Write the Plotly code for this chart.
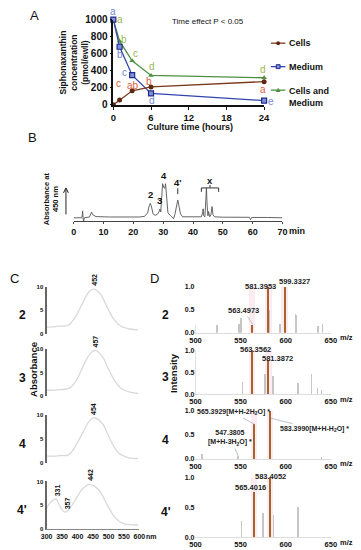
import plotly.graph_objects as go

# ---------------- Panel A data ----------------
time_h = [0, 1, 3, 6, 24]
cells = [0, 57, 165, 210, 272]
medium = [1000, 682, 348, 134, 50]
cells_medium = [1000, 747, 517, 345, 318]
cells_letters = ["", "c", "ab", "b", "a"]
medium_letters = ["a", "b", "c", "d", "e"]
cm_letters = ["a", "b", "c", "d", "d"]
a_xticks = [0, 6, 12, 18, 24]
a_yticks = [0, 200, 400, 600, 800, 1000]
legend_names = ["Cells", "Medium", "Cells and<br>Medium"]

# ---------------- Panel B data ----------------
hplc_time = [0, 2.7, 2.9, 3.0, 3.1, 3.3, 3.6, 5.3, 5.8, 6.0, 6.4, 7.5, 12, 18, 22,
             23.8, 24.8, 25.3, 25.7, 26.1, 26.6, 27.3, 28.0, 28.6, 28.9, 29.2, 29.5,
             29.8, 30.2, 30.5, 30.8, 31.1, 31.6, 32.5, 33.2, 33.5, 33.9, 34.3, 34.6,
             34.9, 35.3, 35.8, 36.5, 40, 42.8, 43.2, 43.4, 43.6, 44.0, 44.3, 44.5,
             44.7, 45.0, 45.2, 45.4, 45.6, 46.0, 46.4, 46.7, 47.2, 50, 58.9, 59.3,
             59.7, 65, 70]
hplc_abs = [0, 0, 3, 7, 2, -4, 0, 0.8, 5.5, 5.8, 3, 1.2, 0.8, 0.6, 0.8,
            1.5, 5, 12, 14.8, 11, 4, 2.5, 3.5, 6, 9, 6, 20,
            34.8, 31, 30, 34.8, 20, 5, 2, 0, -1, 3, 8, 14,
            18.2, 12, 4, 1, 0.8, 1, 5, 9.2, 2, 1, 18, 30.5,
            15, 2, 6.5, 2, 1, 3, 11.5, 3, 1, 0.6, 0.5, -2,
            0.3, 0.3, 0]
hplc_xticks = [0, 10, 20, 30, 40, 50, 60, 70]
hplc_labels = ["2", "3", "4", "4'"]
hplc_label_time = [25.7, 28.8, 30.3, 34.9]
hplc_label_abs = [14.8, 9.0, 34.8, 18.2]
x_group = [42.8, 48.6]

# ---------------- Panel C data (UV-Vis spectra) ----------------
spec_names = ["2", "3", "4", "4'"]
wl_2 = [300, 320, 340, 355, 370, 380, 395, 417, 438, 454, 475, 496, 517, 538, 569, 596]
ab_2 = [1.4, 1.45, 1.6, 1.6, 1.8, 2.4, 3.8, 6.6, 9.0, 9.5, 8.3, 5.6, 3.1, 1.7, 1.0, 0.8]
wl_3 = [300, 320, 340, 360, 375, 385, 400, 421, 442, 458, 480, 500, 522, 542, 570, 596]
ab_3 = [1.3, 1.3, 1.4, 1.5, 1.8, 2.4, 3.9, 6.8, 9.2, 9.8, 8.5, 5.8, 3.1, 1.6, 0.9, 0.6]
wl_4 = [300, 320, 345, 369, 380, 396, 422, 440, 454, 480, 506, 532, 564, 596]
ab_4 = [1.4, 1.4, 1.5, 1.6, 2.2, 3.8, 6.9, 8.9, 9.4, 8.2, 4.8, 2.1, 1.1, 0.9]
wl_4p = [300, 310, 321, 331, 343, 359, 375, 396, 417, 440, 469, 496, 522, 548, 575, 596]
ab_4p = [4.4, 5.4, 6.1, 6.3, 4.8, 3.6, 4.4, 6.5, 8.5, 9.4, 8.2, 5.1, 2.4, 1.2, 0.95, 0.9]
peaks_2 = [452]
peaks_3 = [457]
peaks_4 = [454]
peaks_4p = [331, 357, 442]
peak_h_2 = [9.5]
peak_h_3 = [9.8]
peak_h_4 = [9.4]
peak_h_4p = [6.3, 3.6, 9.4]
c_xticks = [300, 350, 400, 450, 500, 550, 600]
c_yticks = [0, 5, 10]

# ---------------- Panel D data (MS spectra) ----------------
mz_gray_2 = [500, 524.6, 549, 550.7, 562.5, 582.4, 594.3, 600.5, 611.2, 612.2, 636, 641.4]
int_gray_2 = [0.17, 0.17, 0.2, 0.33, 0.18, 0.5, 0.2, 0.1, 0.42, 0.4, 0.15, 0.2]
mz_main_2 = [563.4973, 581.3953, 599.3327]
int_main_2 = [0.18, 1.0, 1.0]
mz_gray_3 = [500.5, 552.5, 577.3, 586.4, 614.3, 629, 635.7, 640]
int_gray_3 = [1.0, 0.28, 0.45, 0.42, 0.24, 0.45, 0.13, 0.1]
mz_main_3 = [563.3562, 581.3872]
int_main_3 = [1.0, 0.77]
mz_gray_4 = [507.9, 547.3805, 640]
int_gray_4 = [0.11, 0.06, 0.05]
mz_main_4 = [565.3929, 583.3990]
int_main_4 = [0.72, 1.0]
mz_gray_4p = [551.4, 575.7, 587, 613.9]
int_gray_4p = [0.26, 0.4, 0.37, 0.5]
mz_main_4p = [565.4016, 583.4052]
int_main_4p = [0.75, 1.0]
d_xticks = [500, 550, 600, 650]
d_yticks = [0, 0.5, 1.0]
d_yticktext = ["0.0", "0.5", "1.0"]

# ---------------- helpers ----------------
W, H = 361, 550
FONT = "Arial, Liberation Sans, sans-serif"


def fx(p):
    return p / W


def fy(p):
    return 1 - p / H


annotations = []
shapes = []


def txt(text, x, y, size=9, bold=False, color="#111", angle=0, xanchor="center",
        yanchor="middle", xref="paper", yref="paper", xshift=0, yshift=0, align="center"):
    annotations.append(dict(
        text=text, x=x, y=y, xref=xref, yref=yref, showarrow=False,
        font=dict(family=FONT, size=size, color=color, weight="bold" if bold else "normal"),
        textangle=angle, xanchor=xanchor, yanchor=yanchor, xshift=xshift, yshift=yshift,
        align=align))


fig = go.Figure()
layout = dict(
    width=W, height=H, autosize=False,
    margin=dict(l=0, r=0, t=0, b=0),
    paper_bgcolor="white", plot_bgcolor="rgba(0,0,0,0)",
    showlegend=False, barmode="overlay", bargap=0,
    font=dict(family=FONT, color="#111"),
)

# ================= Panel A =================
col_cells, col_med, col_cm = "#7a3a1c", "#3346b0", "#4e9040"
let_cells, let_med, let_cm = "#d9603b", "#7487d6", "#9ab84e"

fig.add_trace(go.Scatter(x=time_h, y=cells_medium, mode="lines+markers", xaxis="x", yaxis="y",
                         line=dict(color=col_cm, width=1.3), cliponaxis=False,
                         marker=dict(symbol="triangle-up", size=5, color=col_cm)))
fig.add_trace(go.Scatter(x=time_h, y=medium, mode="lines+markers", xaxis="x", yaxis="y",
                         line=dict(color=col_med, width=1.3), cliponaxis=False,
                         marker=dict(symbol="square", size=5, color="#7f90dc",
                                     line=dict(color="#1f2c86", width=1.2))))
fig.add_trace(go.Scatter(x=time_h, y=cells, mode="lines+markers", xaxis="x", yaxis="y",
                         line=dict(color=col_cells, width=1.3), cliponaxis=False,
                         marker=dict(symbol="circle", size=5, color="#5c2a14")))

layout["xaxis"] = dict(domain=[fx(111), fx(267)], range=[0, 24], tickvals=a_xticks,
                       showline=True, linecolor="#111", linewidth=1.5, ticks="outside",
                       ticklen=3, tickcolor="#111", showgrid=False, zeroline=False,
                       tickfont=dict(size=9.5, weight="bold", color="#111"), anchor="y")
layout["yaxis"] = dict(domain=[fy(101), fy(14)], range=[0, 1000], tickvals=a_yticks,
                       showline=True, linecolor="#111", linewidth=1.5, ticks="outside",
                       ticklen=2, tickcolor="#111", showgrid=False, zeroline=False,
                       tickfont=dict(size=10, weight="bold", color="#111"), anchor="x")

# significance letters (offsets in px)
off_cells = [(0, 0), (-1, 16), (1, 5), (-2, 5), (-1, -8)]
off_med = [(0, 8), (0, -8), (-8, 3), (1, -7), (7, -1)]
off_cm = [(7, 0), (4, 2), (3, 7), (1, 9), (-1, 8)]
for vals, letters, offs, col in [(cells, cells_letters, off_cells, let_cells),
                                 (medium, medium_letters, off_med, let_med),
                                 (cells_medium, cm_letters, off_cm, let_cm)]:
    for t, v, l, (dx, dy) in zip(time_h, vals, letters, offs):
        if l:
            txt(l, t, v, size=10, color=col, xref="x", yref="y", xshift=dx, yshift=dy)

txt("A", fx(29), fy(10), size=13)
txt("Time effect P &lt; 0.05", fx(209), fy(16), size=8)
txt("Culture time (hours)", fx(190), fy(124), size=9, bold=True)
txt("Siphonaxanthin<br>concentration<br>(pmol/ewll)", fx(70), fy(58), size=8.5,
    bold=True, angle=-90)

# manual legend
leg_y = [38, 62, 86]
leg_cols = [col_cells, col_med, col_cm]
for yy, name, col, k in zip(leg_y, legend_names, leg_cols, range(3)):
    shapes.append(dict(type="line", xref="paper", yref="paper", x0=fx(274), x1=fx(289),
                       y0=fy(yy), y1=fy(yy), line=dict(color=col, width=1.3)))
    if k == 0:
        shapes.append(dict(type="circle", xref="paper", yref="paper", x0=fx(279.5), x1=fx(283.5),
                           y0=fy(yy + 2), y1=fy(yy - 2), fillcolor="#5c2a14", line=dict(width=0)))
    elif k == 1:
        shapes.append(dict(type="rect", xref="paper", yref="paper", x0=fx(279.5), x1=fx(283.5),
                           y0=fy(yy + 2), y1=fy(yy - 2), fillcolor="#7f90dc",
                           line=dict(color="#1f2c86", width=1)))
    else:
        shapes.append(dict(type="path", xref="paper", yref="paper",
                           path=f"M {fx(279)},{fy(yy + 2)} L {fx(284)},{fy(yy + 2)} L {fx(281.5)},{fy(yy - 2.5)} Z",
                           fillcolor=col, line=dict(width=0)))
    if k < 2:
        txt(name, fx(291), fy(yy), size=9, bold=True, xanchor="left")
    else:
        txt(name, fx(291), fy(yy - 6), size=9, bold=True, xanchor="left", yanchor="top",
            align="left")

# ================= Panel B =================
fig.add_trace(go.Scatter(x=hplc_time, y=hplc_abs, mode="lines", xaxis="x2", yaxis="y2",
                         line=dict(color="#555", width=0.9)))
layout["xaxis2"] = dict(domain=[fx(70), fx(286)], range=[0, 70], tickvals=hplc_xticks,
                        showline=True, linecolor="#444", linewidth=1, ticks="outside",
                        ticklen=2, tickcolor="#444", showgrid=False, zeroline=False,
                        tickfont=dict(size=9, weight="bold", color="#111"), anchor="y2")
layout["yaxis2"] = dict(domain=[fy(220), fy(175)], range=[-3.5, 41.5], visible=False,
                        anchor="x2")
lab_shift = [5, 5, 5, 14]
for l, t, a, s in zip(hplc_labels, hplc_label_time, hplc_label_abs, lab_shift):
    txt(l, t, a, size=9.5, bold=True, xref="x2", yref="y2", yanchor="bottom", yshift=s - 4)
shapes.append(dict(type="line", xref="x2", yref="y2", x0=hplc_label_time[3],
                   x1=hplc_label_time[3], y0=hplc_label_abs[3] + 6, y1=hplc_label_abs[3] + 12,
                   line=dict(color="#333", width=1)))
# bracket over the x group
xm = (x_group[0] + x_group[1]) / 2
shapes.append(dict(type="path", xref="x2", yref="paper",
                   path=f"M {x_group[0]},{fy(190)} L {x_group[0]},{fy(186)} L {x_group[1]},{fy(186)} L {x_group[1]},{fy(190)}",
                   line=dict(color="#333", width=1)))
shapes.append(dict(type="line", xref="x2", yref="paper", x0=xm, x1=xm, y0=fy(186),
                   y1=fy(183), line=dict(color="#333", width=1)))
txt("x", xm, fy(178), size=9.5, bold=True, xref="x2")
txt("min", fx(301), fy(230), size=9, bold=True)
txt("B", fx(27), fy(134), size=13)
txt("Absorbance at<br>450 nm", fx(47), fy(197), size=7.5, bold=True, angle=-90)
# upward arrow
shapes.append(dict(type="line", xref="paper", yref="paper", x0=fx(62), x1=fx(62),
                   y0=fy(213), y1=fy(186.5), line=dict(color="#222", width=1)))
shapes.append(dict(type="path", xref="paper", yref="paper",
                   path=f"M {fx(59.5)},{fy(191)} L {fx(62)},{fy(186)} L {fx(64.5)},{fy(191)}",
                   line=dict(color="#222", width=1)))

# ================= Panel C =================
c_dom = [(335, 287), (399, 351), (467, 418), (535, 486)]
specs = [(wl_2, ab_2, peaks_2, peak_h_2), (wl_3, ab_3, peaks_3, peak_h_3),
         (wl_4, ab_4, peaks_4, peak_h_4), (wl_4p, ab_4p, peaks_4p, peak_h_4p)]
label_xshift = {331: 1, 357: 3}
for i, ((wl, ab, pk, ph), (b, t)) in enumerate(zip(specs, c_dom)):
    n = 3 + i
    xa, ya = f"x{n}", f"y{n}"
    fig.add_trace(go.Scatter(x=wl, y=ab, mode="lines", xaxis=xa, yaxis=ya,
                             line=dict(color="#d9d9d9", width=1.3, shape="spline")))
    last = i == 3
    layout[f"xaxis{n}"] = dict(domain=[fx(42), fx(138)], range=[300, 600], tickvals=c_xticks,
                               showticklabels=last, showline=last, linecolor="#888",
                               linewidth=1, ticks="", showgrid=False, zeroline=False,
                               tickfont=dict(size=7, weight="bold", color="#111"),
                               anchor=ya)
    layout[f"yaxis{n}"] = dict(domain=[fy(b), fy(t)], range=[0, 10], tickvals=c_yticks,
                               showline=True, linecolor="#666", linewidth=2.2, ticks="",
                               showgrid=False, zeroline=False,
                               tickfont=dict(size=6, weight="bold", color="#111"),
                               anchor=xa)
    for p, h in zip(pk, ph):
        txt(str(p), p, h, size=7, bold=True, angle=-90, xref=xa, yref=ya,
            yanchor="bottom", yshift=1, xshift=label_xshift.get(p, 0))
    txt(spec_names[i], fx(17), fy((b + t) / 2 + 5), size=12, bold=True)
txt("C", fx(9), fy(279), size=13)
txt("nm", fx(151), fy(542), size=7, bold=True)
txt("Absorbance", fx(29), fy(372), size=9.5, bold=True, angle=-90)

# ================= Panel D =================
d_dom = [(334, 287), (397, 352), (463, 414), (543, 482)]
ms = [(mz_gray_2, int_gray_2, mz_main_2, int_main_2),
      (mz_gray_3, int_gray_3, mz_main_3, int_main_3),
      (mz_gray_4, int_gray_4, mz_main_4, int_main_4),
      (mz_gray_4p, int_gray_4p, mz_main_4p, int_main_4p)]
for i, ((mg, ig, mm, im), (b, t)) in enumerate(zip(ms, d_dom)):
    n = 7 + i
    xa, ya = f"x{n}", f"y{n}"
    fig.add_trace(go.Bar(x=mm, y=[1.0] * len(mm), width=7, xaxis=xa, yaxis=ya,
                         marker=dict(color="rgba(245,200,218,0.35)", line=dict(width=0))))
    fig.add_trace(go.Bar(x=mg, y=ig, width=0.7, xaxis=xa, yaxis=ya,
                         marker=dict(color="#c6c6c6", line=dict(width=0))))
    fig.add_trace(go.Bar(x=mm, y=im, width=1.3, xaxis=xa, yaxis=ya,
                         marker=dict(color="#a8622c", line=dict(width=0))))
    layout[f"xaxis{n}"] = dict(domain=[fx(196), fx(336)], range=[500, 650], tickvals=d_xticks,
                               showline=True, linecolor="#dddddd", linewidth=0.8, ticks="",
                               showgrid=False, zeroline=False, ticklabelstandoff=0,
                               tickfont=dict(size=7.5, weight="bold", color="#111"),
                               anchor=ya)
    layout[f"yaxis{n}"] = dict(domain=[fy(b), fy(t)], range=[0, 1.0], tickvals=d_yticks,
                               ticktext=d_yticktext, showline=False, ticks="",
                               showgrid=False, zeroline=False,
                               tickfont=dict(size=7, weight="bold", color="#111"),
                               anchor=xa)
    txt("m/z", fx(343), fy(b + 5), size=7.5, bold=True, xanchor="left")
    txt(spec_names[i], fx(165), fy((b + t) / 2 + 5), size=12, bold=True)

txt("D", fx(154), fy(279), size=13)
txt("Intensity", fx(174), fy(375), size=9.5, bold=True, angle=-90)

LBL = dict(size=7.5, bold=True, color="#222")
# D1 labels
txt(f"{mz_main_2[2]:.4f}", mz_main_2[2], int_main_2[2], xref="x7", yref="y7", xshift=9, yshift=5, **LBL)
txt(f"{mz_main_2[1]:.4f}", mz_main_2[1], int_main_2[1], xref="x7", yref="y7", xshift=-8, yshift=0, **LBL)
# D2 labels
txt(f"{mz_main_3[0]:.4f}", mz_main_3[0], int_main_3[0], xref="x8", yref="y8", xshift=3, yshift=1, **LBL)
txt(f"{mz_main_3[1]:.4f}", mz_main_3[1], int_main_3[1], xref="x8", yref="y8", xshift=9, yshift=2, **LBL)
# D4 labels
txt(f"{mz_main_4p[1]:.4f}", mz_main_4p[1], int_main_4p[1], xref="x10", yref="y10", xshift=0, yshift=1, **LBL)
txt(f"{mz_main_4p[0]:.4f}", mz_main_4p[0], int_main_4p[0], xref="x10", yref="y10", xshift=-4, yshift=5, **LBL)


def leader(text, x, y, xa, ya, ax, ay, size=7.5):
    annotations.append(dict(text=text, x=x, y=y, xref=xa, yref=ya, showarrow=True,
                            arrowhead=0, arrowwidth=0.7, arrowcolor="#9aa5b0", ax=ax, ay=ay,
                            standoff=0,
                            font=dict(family=FONT, size=size, color="#222", weight="bold"),
                            align="center"))


leader(f"{mz_main_2[0]:.4f}", mz_main_2[0], int_main_2[0], "x7", "y7", -9, -14)
leader(f"{mz_main_4[0]:.4f}[M+H-2H<sub>2</sub>O] *", mz_main_4[0], int_main_4[0], "x9", "y9", -21, -12, 7)
leader(f"{mz_main_4[1]:.4f}[M+H-H<sub>2</sub>O] *", mz_main_4[1], 0.85, "x9", "y9", 44, 11, 7)
leader(f"{mz_gray_4[1]:.4f}<br>[M+H-3H<sub>2</sub>O] *", mz_gray_4[1], int_gray_4[1], "x9", "y9", -8, -18, 7)

layout["annotations"] = annotations
layout["shapes"] = shapes
fig.update_layout(**layout)

fig.write_html("out.html", config={"displayModeBar": False},
               post_script="document.body.style.margin='0px';")
